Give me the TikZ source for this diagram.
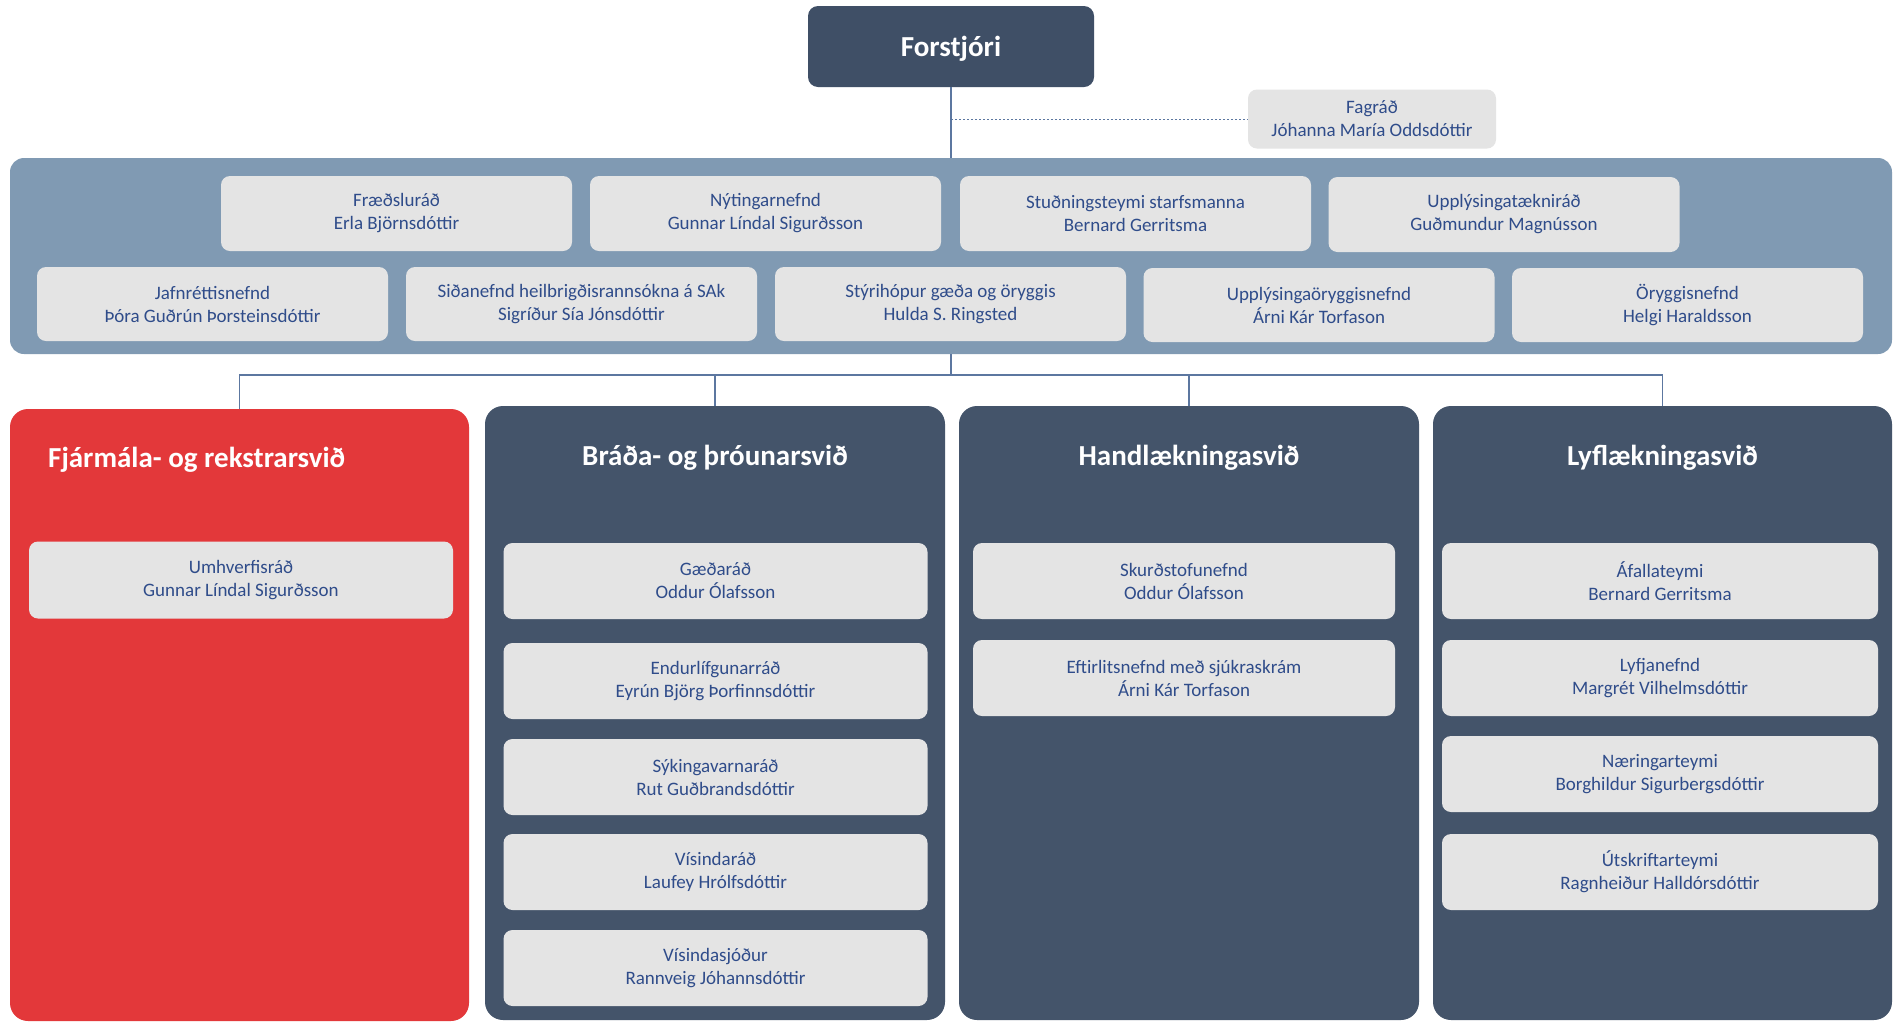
\documentclass[tikz,border=0pt]{standalone}
\usepackage{fontspec}
\setmainfont{Carlito}
\definecolor{slate}{HTML}{44546A}
\definecolor{topdark}{HTML}{3F4F66}
\definecolor{redcol}{HTML}{E3383A}
\definecolor{bandblue}{HTML}{809AB3}
\definecolor{boxgray}{HTML}{E4E4E4}
\definecolor{boxtext}{HTML}{2F4C8A}
\definecolor{linecol}{HTML}{5C77A0}
\begin{document}
\begin{tikzpicture}[x=1pt,y=-1pt,
  gbox/.style={draw=none, fill=boxgray, rounded corners=9pt, align=center, text=boxtext,
     font=\fontsize{19}{23}\selectfont, inner sep=0pt},
  colbox/.style={draw=none, rounded corners=18pt, inner sep=0pt},
  coltitle/.style={text=white, font=\fontsize{29}{34}\selectfont\bfseries, inner sep=0pt},
  conn/.style={draw=linecol, line width=1.1pt}]
\useasboundingbox (0,0) rectangle (1896,1021);
\fill[white] (0,0) rectangle (1896,1021);

% Forstjori
\node[fill=topdark, rounded corners=10pt, minimum width=286pt, minimum height=81pt, inner sep=0pt] (forst) at (951,46.5) {};
\node[text=white, font=\fontsize{29}{34}\selectfont\bfseries, inner sep=0pt] (forsttext) at (951,49) {Forstjóri};

% Fagrad
\node[gbox, minimum width=248pt, minimum height=59pt] (fag) at (1372,119) {Fagráð\\Jóhanna María Oddsdóttir};

% Band
\node[fill=bandblue, rounded corners=14pt, minimum width=1882pt, minimum height=196pt, inner sep=0pt] (band) at (951,256) {};

% Row 1
\node[gbox, minimum width=351pt, minimum height=75pt] (r1a) at (396.5,213.5) {Fræðsluráð\\Erla Björnsdóttir};
\node[gbox, minimum width=351pt, minimum height=75pt] (r1b) at (765.5,213.5) {Nýtingarnefnd\\Gunnar Líndal Sigurðsson};
\node[gbox, minimum width=351pt, minimum height=75pt] (r1c) at (1135.5,213.5) {Stuðningsteymi starfsmanna\\Bernard Gerritsma};
\node[gbox, minimum width=351pt, minimum height=75pt] (r1d) at (1504,214.5) {Upplýsingatækniráð\\Guðmundur Magnússon};

% Row 2
\node[gbox, minimum width=351pt, minimum height=74pt] (r2a) at (212.5,304) {Jafnréttisnefnd\\Þóra Guðrún Þorsteinsdóttir};
\node[gbox, minimum width=351pt, minimum height=74pt] (r2b) at (581.5,304) {Siðanefnd heilbrigðisrannsókna á SAk\\Sigríður Sía Jónsdóttir};
\node[gbox, minimum width=351pt, minimum height=74pt] (r2c) at (950.5,304) {Stýrihópur gæða og öryggis\\Hulda S. Ringsted};
\node[gbox, minimum width=351pt, minimum height=74pt] (r2d) at (1319,305) {Upplýsingaöryggisnefnd\\Árni Kár Torfason};
\node[gbox, minimum width=351pt, minimum height=74pt] (r2e) at (1687.5,305) {Öryggisnefnd\\Helgi Haraldsson};

% Columns
\node[colbox, fill=redcol, minimum width=459pt, minimum height=612pt] (c1) at (239.5,715) {};
\node[colbox, fill=slate, minimum width=460pt, minimum height=614pt] (c2) at (715,713) {};
\node[colbox, fill=slate, minimum width=460pt, minimum height=614pt] (c3) at (1189,713) {};
\node[colbox, fill=slate, minimum width=459pt, minimum height=614pt] (c4) at (1662.5,713) {};

\node[coltitle, anchor=west] (t1) at (48,459.5) {Fjármála- og rekstrarsvið};
\node[coltitle] (t2) at (715,457.5) {Bráða- og þróunarsvið};
\node[coltitle] (t3) at (1189,457.5) {Handlækningasvið};
\node[coltitle] (t4) at (1662.5,457.5) {Lyflækningasvið};

% Red column boxes
\node[gbox, minimum width=424pt, minimum height=77pt] (b11) at (241,580) {Umhverfisráð\\Gunnar Líndal Sigurðsson};

% Column 2 boxes
\node[gbox, minimum width=424pt, minimum height=76pt] (b21) at (715.5,581) {Gæðaráð\\Oddur Ólafsson};
\node[gbox, minimum width=424pt, minimum height=76pt] (b22) at (715.5,681) {Endurlífgunarráð\\Eyrún Björg Þorfinnsdóttir};
\node[gbox, minimum width=424pt, minimum height=76pt] (b23) at (715.5,777) {Sýkingavarnaráð\\Rut Guðbrandsdóttir};
\node[gbox, minimum width=424pt, minimum height=76pt] (b24) at (715.5,872) {Vísindaráð\\Laufey Hrólfsdóttir};
\node[gbox, minimum width=424pt, minimum height=76pt] (b25) at (715.5,968) {Vísindasjóður\\Rannveig Jóhannsdóttir};

% Column 3 boxes
\node[gbox, minimum width=422pt, minimum height=76pt] (b31) at (1184,581) {Skurðstofunefnd\\Oddur Ólafsson};
\node[gbox, minimum width=422pt, minimum height=76pt] (b32) at (1184,678) {Eftirlitsnefnd með sjúkraskrám\\Árni Kár Torfason};

% Column 4 boxes
\node[gbox, minimum width=436pt, minimum height=76pt] (b41) at (1660,581) {Áfallateymi\\Bernard Gerritsma};
\node[gbox, minimum width=436pt, minimum height=76pt] (b42) at (1660,678) {Lyfjanefnd\\Margrét Vilhelmsdóttir};
\node[gbox, minimum width=436pt, minimum height=76pt] (b43) at (1660,774) {Næringarteymi\\Borghildur Sigurbergsdóttir};
\node[gbox, minimum width=436pt, minimum height=76pt] (b44) at (1660,872) {Útskriftarteymi\\Ragnheiður Halldórsdóttir};

% Connectors
\coordinate (dstart) at (forst.south |- fag.west);
\draw[conn] (forst.south) -- (band.north);
\draw[draw=linecol, line width=0.9pt, dash pattern=on 2pt off 2pt] (dstart) -- (fag.west);
\coordinate (hub) at (band.south |- 0,375);
\draw[conn] (band.south) -- (hub);
\draw[conn] (hub) -| (c1.north);
\draw[conn] (hub) -| (c2.north);
\draw[conn] (hub) -| (c3.north);
\draw[conn] (hub) -| (c4.north);
\end{tikzpicture}
\end{document}
